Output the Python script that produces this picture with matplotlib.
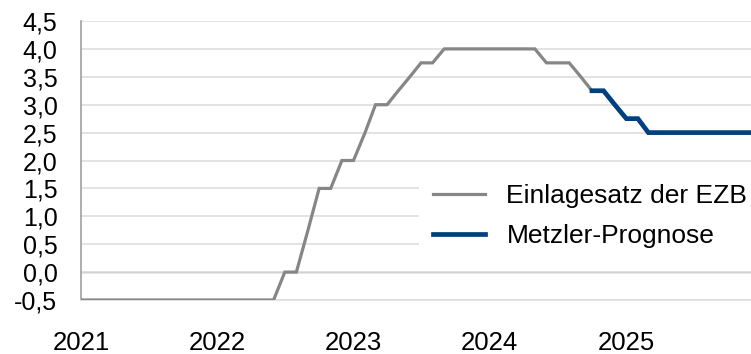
import matplotlib
matplotlib.use("Agg")
import matplotlib.pyplot as plt
import matplotlib.dates as mdates
from matplotlib.ticker import FuncFormatter, MultipleLocator
import pandas as pd

# monthly values, Jan 2021 .. Oct 2024 (ECB deposit rate)
ezb_start = "2021-01-01"
ezb_rate = [-0.5] * 18 + [0.0, 0.0, 0.75, 1.5, 1.5, 2.0, 2.0, 2.5, 3.0, 3.0,
                          3.25, 3.5, 3.75, 3.75] + [4.0] * 9 + [3.75, 3.75, 3.75, 3.5, 3.25]

# forecast, Oct 2024 .. Dec 2025
prog_start = "2024-10-01"
prog_rate = [3.25, 3.25, 3.0, 2.75, 2.75] + [2.5] * 10

years = [2021, 2022, 2023, 2024, 2025]

gray = "#868686"
blue = "#00407f"

plt.rcParams["font.family"] = ["Liberation Sans", "DejaVu Sans"]

ezb_dates = pd.date_range(ezb_start, periods=len(ezb_rate), freq="MS")
prog_dates = pd.date_range(prog_start, periods=len(prog_rate), freq="MS")

fig = plt.figure(figsize=(7.51, 3.54), dpi=100)
ax = fig.add_axes([81 / 751, 54 / 354, 670 / 751, 279 / 354])

ax.plot(ezb_dates, ezb_rate, color=gray, lw=2.3, label="Einlagesatz der EZB",
        solid_joinstyle="miter", zorder=3)
ax.plot(prog_dates, prog_rate, color=blue, lw=3.4, label="Metzler-Prognose",
        solid_joinstyle="miter", zorder=4)

ax.set_ylim(-0.5, 4.5)
ax.yaxis.set_major_locator(MultipleLocator(0.5))
ax.yaxis.set_major_formatter(FuncFormatter(lambda v, p: f"{v:.1f}".replace(".", ",")))
ax.set_xlim(ezb_dates[0], prog_dates[-1])
ax.set_xticks([pd.Timestamp(f"{y}-01-01") for y in years])
ax.xaxis.set_major_formatter(mdates.DateFormatter("%Y"))

ax.grid(axis="y", color="#dedede", lw=1.2, zorder=0)
ax.axhline(0, color="#8c8c8c", lw=1.0, zorder=1)

for s in ["top", "right"]:
    ax.spines[s].set_visible(False)
ax.spines["left"].set_color("#a0a0a0")
ax.spines["left"].set_linewidth(1.2)
ax.spines["bottom"].set_color("#dedede")
ax.spines["bottom"].set_linewidth(1.2)

ax.tick_params(axis="both", length=0, labelsize=18)
ax.tick_params(axis="x", labelsize=18.5)
ax.tick_params(axis="y", pad=17)
ax.tick_params(axis="x", pad=22)

leg = ax.legend(loc="center left", bbox_to_anchor=(0.505, 0.30), fontsize=19,
                frameon=True, fancybox=False, borderaxespad=0, borderpad=0.5,
                handlelength=2.0, handletextpad=0.8, labelspacing=0.6)
leg.get_frame().set_facecolor("white")
leg.get_frame().set_edgecolor("none")
leg.get_frame().set_alpha(1)

fig.savefig("out.png", dpi=100)
